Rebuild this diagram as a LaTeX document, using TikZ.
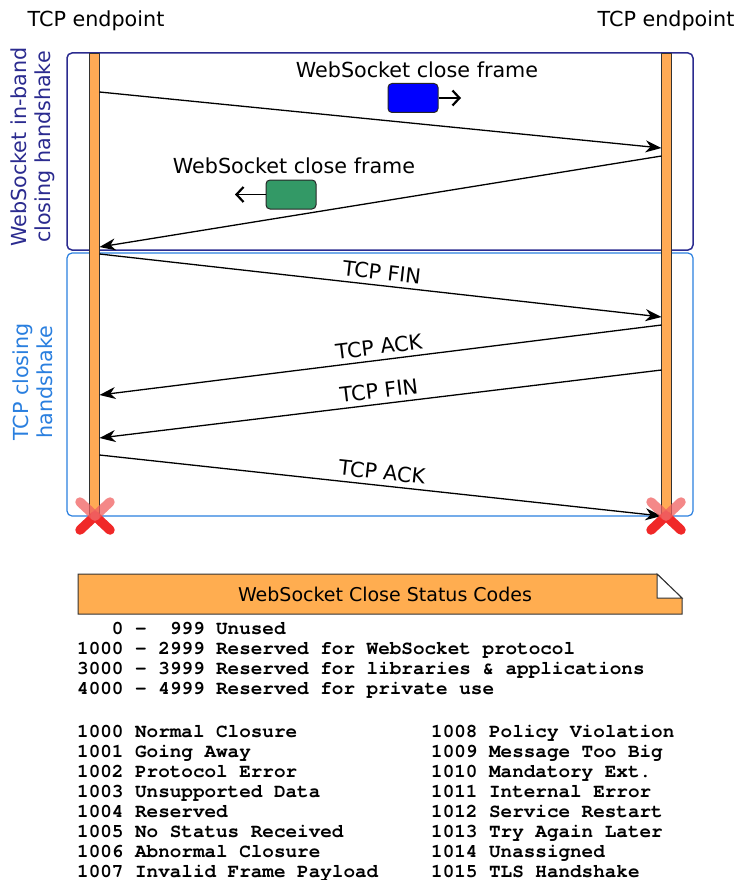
\documentclass[tikz,border=0pt]{standalone}
\usepackage{fontspec}
\setmainfont{DejaVu Sans}
\newfontfamily\codefont{TeX Gyre Cursor}
\usetikzlibrary{arrows.meta,calc}
\definecolor{lifeor}{HTML}{FFAA55}
\definecolor{noteor}{HTML}{FFAD50}
\definecolor{wsblue}{HTML}{2B2B8F}
\definecolor{tcpblue}{HTML}{2A7FDF}
\definecolor{frameblue}{HTML}{0000FF}
\definecolor{framegreen}{HTML}{339966}
\definecolor{xred}{HTML}{F02828}
\definecolor{xlight}{HTML}{F06060}
\tikzset{
  lbl/.style={font=\fontsize{20.7}{24}\selectfont, inner sep=0pt},
  msg/.style={draw=black, line width=1.3pt, -{Stealth[length=16pt,width=12pt,inset=5pt]}},
  smallarr/.style={draw=black, line width=1.4pt, -{Straight Barb[length=7pt,width=15pt,line width=2.2pt]}},
  lifebar/.style={draw=black!80, fill=lifeor, line width=0.8pt, minimum width=10pt, inner sep=0pt},
  phase/.style={rounded corners=5pt, line width=1.5pt},
  framebox/.style={draw=black!85, line width=1pt, rounded corners=4pt, minimum width=50pt, minimum height=29pt, inner sep=0pt},
  codetext/.style={font=\codefont\bfseries\fontsize{19.3}{20}\selectfont, align=left, inner sep=0pt, anchor=base west},
  msglbl/.style={font=\fontsize{20.7}{24}\selectfont, midway, above, sloped, inner sep=5pt},
  xmark/.style={line width=9.5pt, line cap=round}
}
\begin{document}
\begin{tikzpicture}[x=1pt,y=-1pt]
\useasboundingbox (0,0) rectangle (738,880);

% endpoint titles
\node[lbl, anchor=base] (tl) at (96,27) {TCP endpoint};
\node[lbl, anchor=base] (tr) at (666,27) {TCP endpoint};

% phase boxes
\draw[phase, draw=wsblue] (67,53) rectangle (693,250);
\draw[phase, draw=tcpblue, line width=1.2pt] (67,253) rectangle (693,516);

% side labels
\node[lbl, text=wsblue, rotate=90, align=center] (sl1) at (33,147) {WebSocket in-band\\closing handshake};
\node[lbl, text=tcpblue, rotate=90, align=center] (sl2) at (33,382) {TCP closing\\handshake};

% lifelines
\node[lifebar, minimum height=463pt] (L) at (94.5,284.5) {};
\node[lifebar, minimum height=463pt] (R) at (666.5,284.5) {};

% message endpoints
\coordinate (m1a) at (99.5,92);  \coordinate (m1b) at (661.5,148);
\coordinate (m2a) at (661.5,156); \coordinate (m2b) at (99.5,247);
\coordinate (m3a) at (99.5,254); \coordinate (m3b) at (661.5,317);
\coordinate (m4a) at (661.5,325); \coordinate (m4b) at (99.5,395);
\coordinate (m5a) at (661.5,370); \coordinate (m5b) at (99.5,438);
\coordinate (m6a) at (99.5,455); \coordinate (m6b) at (661.5,516);

\draw[msg] (m1a) -- (m1b);
\draw[msg] (m2a) -- (m2b);
\draw[msg] (m3a) -- node[msglbl] (f1) {TCP FIN} (m3b);
\draw[msg] (m4a) -- node[msglbl] (a1) {TCP ACK} (m4b);
\draw[msg] (m5a) -- node[msglbl] (f2) {TCP FIN} (m5b);
\draw[msg] (m6a) -- node[msglbl] (a2) {TCP ACK} (m6b);

% close frames
\node[lbl] (t1) at (417,70) {WebSocket close frame};
\node[framebox, fill=frameblue] (bf) at (413,98) {};
\coordinate (bfa) at (461,98);
\draw[smallarr] (bf.east) -- (bfa);

\node[lbl] (t2) at (294,166) {WebSocket close frame};
\node[framebox, fill=framegreen] (gf) at (291,194.5) {};
\coordinate (gfa) at (235,194.5);
\draw[smallarr] (gf.west) -- (gfa);

% end marks
\foreach \cx/\nm in {95/xl,666/xr}{
  \coordinate (\nm) at (\cx,516);
  \draw[xmark, draw=xred] (\nm) -- ($(\nm)+(15,14)$);
  \draw[xmark, draw=xred] (\nm) -- ($(\nm)+(-15,14)$);
  \draw[xmark, draw=xlight, opacity=0.75] (\nm) -- ($(\nm)+(-15,-14)$);
  \draw[xmark, draw=xlight, opacity=0.75] (\nm) -- ($(\nm)+(15,-14)$);
}

% note
\draw[draw=black!80, fill=noteor, line width=1pt] (78,574) -- (657,574) -- (682,598) -- (682,614) -- (78,614) -- cycle;
\draw[draw=black!80, fill=white, line width=1pt] (657,574) -- (657,598) -- (682,598) -- cycle;
\node[lbl, font=\fontsize{19}{22}\selectfont] (nt) at (385,594) {WebSocket Close Status Codes};

% codes (anchor = baseline of last line)
\node[codetext] (c1) at (77,694) {\ \ \ 0 -\ \ 999 Unused\\1000 - 2999 Reserved for WebSocket protocol\\3000 - 3999 Reserved for libraries \& applications\\4000 - 4999 Reserved for private use};
\node[codetext] (c2) at (77,877) {1000 Normal Closure\\1001 Going Away\\1002 Protocol Error\\1003 Unsupported Data\\1004 Reserved\\1005 No Status Received\\1006 Abnormal Closure\\1007 Invalid Frame Payload};
\node[codetext] (c3) at (431,877) {1008 Policy Violation\\1009 Message Too Big\\1010 Mandatory Ext.\\1011 Internal Error\\1012 Service Restart\\1013 Try Again Later\\1014 Unassigned\\1015 TLS Handshake};
\end{tikzpicture}
\end{document}
